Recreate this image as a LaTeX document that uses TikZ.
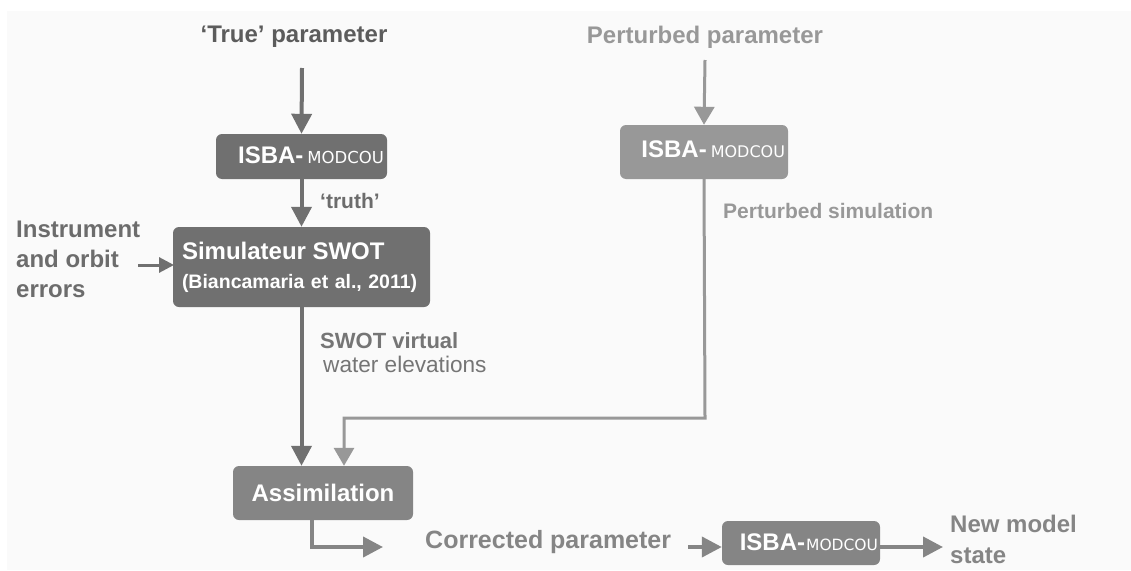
\documentclass[tikz,border=0pt]{standalone}
\usepackage{fontspec}
\setmainfont{Liberation Sans}
\newfontfamily\dejavu{DejaVu Sans}
\usetikzlibrary{arrows.meta,calc}
\definecolor{dk}{HTML}{707070}
\definecolor{dktxt}{HTML}{5C5C5C}
\definecolor{mid}{HTML}{858585}
\definecolor{lt}{HTML}{989898}
\definecolor{bg}{HTML}{FAFAFA}
\newcommand{\isbatext}[2]{{\fontsize{24}{26}\selectfont ISBA-}\hspace{#2}{\dejavu\mdseries\fontsize{#1}{20}\selectfont MODCOU}}
\begin{document}
\begin{tikzpicture}[x=1pt,y=-1pt,
  box/.style={rounded corners=6pt, inner sep=0pt, text=white, font=\bfseries},
  isbabox/.style={box, inner xsep=3pt, align=right, text depth=2pt},
  lbl/.style={inner sep=0pt, anchor=west, align=left},
  darr/.style={draw=dk, line width=4pt, -{Triangle[width=20pt,length=20pt]}},
  larr/.style={draw=lt, line width=3pt, -{Triangle[width=20pt,length=18pt]}},
  marr/.style={draw=mid, line width=4pt, -{Triangle[width=20pt,length=20pt]}},
  sarr/.style={draw=dk, line width=3pt, -{Triangle[width=15pt,length=15pt]}},
]
\useasboundingbox (0,0) rectangle (1131,570);
\fill[white] (0,0) rectangle (1131,570);
\fill[bg] (7,11) rectangle (1131,570);
% texts
\node[inner sep=0pt, text=dktxt, font=\fontsize{24}{28}\selectfont\bfseries] (tp) at (294,37) {‘True’ parameter};
\node[inner sep=0pt, text=lt, font=\fontsize{24}{28}\selectfont\bfseries] (pp) at (705,37) {Perturbed parameter};
\node[lbl, text=dktxt!90, font=\fontsize{24}{30}\selectfont\bfseries] (err) at (16,259) {Instrument\\and orbit\\errors};
\node[lbl, text=dktxt!90, font=\fontsize{21}{24}\selectfont\bfseries] (truth) at (320,201) {‘truth’};
\node[lbl, text=lt, font=\fontsize{21}{24}\selectfont\bfseries] (psim) at (723,211) {Perturbed simulation};
\node[lbl, text=dktxt!85, font=\fontsize{22}{24}\selectfont\bfseries] (sv1) at (320,341) {SWOT virtual};
\node[lbl, text=dktxt!85, font=\fontsize{22.6}{24}\selectfont] (sv2) at (323,364) {water elevations};
\node[lbl, text=mid, font=\fontsize{25}{28}\selectfont\bfseries] (corr) at (425,542) {Corrected parameter};
\node[lbl, text=mid, font=\fontsize{24}{31}\selectfont\bfseries] (nms) at (950,539) {New model\\state};
% boxes
\node[isbabox, fill=dk, minimum width=171pt, minimum height=45pt, text width=165pt] (isba1) at (301.5,156.5)
  {\isbatext{16.5}{4pt}};
\node[isbabox, fill=lt, minimum width=168pt, minimum height=54pt, text width=162pt, text depth=6pt] (isba2) at (704,152)
  {\isbatext{16}{4pt}};
\node[isbabox, fill=mid, minimum width=158pt, minimum height=44pt, text width=154pt, inner xsep=2pt] (isba3) at (801,543)
  {\isbatext{15.5}{1pt}};
\node[box, fill=dk, minimum width=257pt, minimum height=80pt, text width=239pt, align=left,
  font=\fontsize{19.5}{29}\selectfont\bfseries] (sim) at (301.5,267)
  {{\fontsize{24}{29}\selectfont Simulateur SWOT}\\(Biancamaria et al., 2011)};
\node[box, fill=mid, minimum width=180pt, minimum height=54pt] (assim) at (323,493)
  {{\fontsize{24}{28}\selectfont Assimilation}};
% coordinates
\coordinate (a0) at (302,68);
\coordinate (p0) at (705,60);
\coordinate (e0) at (138,265);
\coordinate (e1) at (174,265);
\coordinate (r1) at (705,418);
\coordinate (r2) at (344,418);
\coordinate (b1) at (312,547);
\coordinate (b2) at (383,547);
\coordinate (c1) at (688,547);
\coordinate (n1) at (943,547);
% connectors
\draw[darr] (a0) -- (isba1.north);
\draw[darr] (isba1.south) -- (sim.north);
\draw[sarr] (e0) -- (e1);
\draw[darr] (sim.south) -- (sim.south |- assim.north);
\draw[larr] (p0) -- (isba2.north);
\draw[larr] (isba2.south) -- (r1) -- (r2) -- (r2 |- assim.north);
\draw[marr] (assim.south -| b1) -- (b1) -- (b2);
\draw[marr] (c1) -- (isba3.west |- c1);
\draw[marr] (isba3.east |- n1) -- (n1);
\end{tikzpicture}
\end{document}
